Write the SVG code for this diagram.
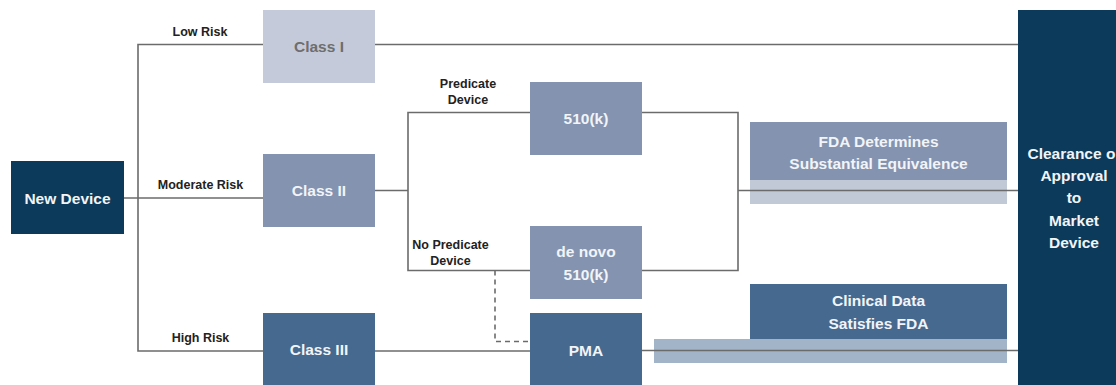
<svg xmlns="http://www.w3.org/2000/svg" width="1116" height="385" viewBox="0 0 1116 385">
  <style>
    text { font-family: "Liberation Sans", Arial, Helvetica, sans-serif; font-weight: bold; }
    .box-text { font-size: 15.5px; fill: #f2f4f7; text-anchor: middle; }
    .box-text-dim { font-size: 15.5px; fill: #6e6e6e; text-anchor: middle; }
    .lbl { font-size: 12.5px; fill: #222222; text-anchor: middle; }
    .dark { fill: #0b3a5b; }
    .c1 { fill: #c4cad9; }
    .c2 { fill: #8393b0; }
    .c3 { fill: #46698f; }
    .band2 { fill: #8393b0; fill-opacity: 0.5; }
    .band3 { fill: #46698f; fill-opacity: 0.5; }
    .conn { fill: none; stroke: #6b6b6b; stroke-width: 1.6; }
    .dash { fill: none; stroke: #6b6b6b; stroke-width: 1.6; stroke-dasharray: 5 4; }
  </style>

  <g id="node-fda-se">
    <rect class="band2" x="750" y="180" width="257" height="24"/>
    <rect class="c2" x="750" y="122" width="257" height="58"/>
    <text class="box-text" x="878.5" y="146.5">FDA Determines</text>
    <text class="box-text" x="878.5" y="168.5">Substantial Equivalence</text>
  </g>

  <g id="node-clinical">
    <rect class="band3" x="654" y="339" width="353" height="24"/>
    <rect class="c3" x="750" y="284" width="257" height="55"/>
    <text class="box-text" x="878.5" y="306">Clinical Data</text>
    <text class="box-text" x="878.5" y="328.5">Satisfies FDA</text>
  </g>

  <g id="connectors">
    <path class="conn" d="M124 198 H263"/>
    <path class="conn" d="M263 44.5 H138 V351 H263"/>
    <path class="conn" d="M375 44.5 H1018"/>
    <path class="conn" d="M375 190.5 H408"/>
    <path class="conn" d="M530 112.5 H408 V270.5 H530"/>
    <path class="conn" d="M642 112.5 H738 V270.5 H642"/>
    <path class="conn" d="M738 190.5 H1018"/>
    <path class="conn" d="M375 351 H530"/>
    <path class="conn" d="M642 350.5 H1018"/>
    <path class="dash" d="M495 270.5 V341.5 H530"/>
    <text class="lbl" x="200" y="36">Low Risk</text>
    <text class="lbl" x="200.5" y="188.5">Moderate Risk</text>
    <text class="lbl" x="200.5" y="342">High Risk</text>
    <text class="lbl" x="468" y="88">Predicate</text>
    <text class="lbl" x="468" y="104">Device</text>
    <text class="lbl" x="450.5" y="248.5">No Predicate</text>
    <text class="lbl" x="450.5" y="264.5">Device</text>
  </g>

  <g id="node-new-device">
    <rect class="dark" x="11" y="161" width="113" height="73"/>
    <text class="box-text" x="67.5" y="203.5">New Device</text>
  </g>

  <g id="node-class1">
    <rect class="c1" x="263" y="10" width="112" height="73"/>
    <text class="box-text-dim" x="319" y="52">Class I</text>
  </g>

  <g id="node-class2">
    <rect class="c2" x="263" y="154" width="112" height="73"/>
    <text class="box-text" x="319" y="196">Class II</text>
  </g>

  <g id="node-class3">
    <rect class="c3" x="263" y="313" width="112" height="72"/>
    <text class="box-text" x="319" y="355">Class III</text>
  </g>

  <g id="node-510k">
    <rect class="c2" x="530" y="82" width="112" height="73"/>
    <text class="box-text" x="586" y="123.5">510(k)</text>
  </g>

  <g id="node-denovo">
    <rect class="c2" x="530" y="226" width="112" height="73"/>
    <text class="box-text" x="586" y="257">de novo</text>
    <text class="box-text" x="586" y="280">510(k)</text>
  </g>

  <g id="node-pma">
    <rect class="c3" x="530" y="313" width="112" height="72"/>
    <text class="box-text" x="586" y="355.5">PMA</text>
  </g>

  <g id="node-clearance">
    <rect class="dark" x="1018" y="10" width="112" height="375"/>
    <text class="box-text" x="1027.5" y="158.5" style="text-anchor:start">Clearance o</text>
    <text class="box-text" x="1074" y="181">Approval</text>
    <text class="box-text" x="1074" y="203">to</text>
    <text class="box-text" x="1074" y="225.5">Market</text>
    <text class="box-text" x="1074" y="248">Device</text>
  </g>
</svg>
